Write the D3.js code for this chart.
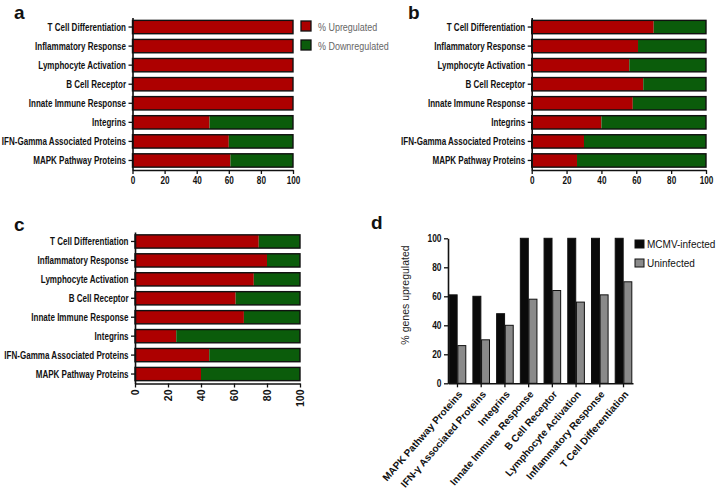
<!DOCTYPE html>
<html><head><meta charset="utf-8">
<script src="https://cdn.jsdelivr.net/npm/d3@7"></script>
<style>
html,body{margin:0;padding:0;background:#fff;}
svg{display:block;}
</style></head>
<body>
<svg id="chart" width="721" height="493"></svg>
<script>
// ---------- data ----------
const categories = ["T Cell Differentiation","Inflammatory Response","Lymphocyte Activation","B Cell Receptor","Innate Immune Response","Integrins","IFN-Gamma Associated Proteins","MAPK Pathway Proteins"];
const upA   = [100,100,100,100,100,48,60,61];
const downA = [0,0,0,0,0,52,40,39];
const upB   = [70,61,56,64,58,40,30,26];
const downB = [30,39,44,36,42,60,70,74];
const upC   = [75,80,72,61,66,25,45,40];
const downC = [25,20,28,39,34,75,55,60];
const valueTicks = [0,20,40,60,80,100];
const legendA = ["% Upregulated","% Downregulated"];

const dCategories = ["MAPK Pathway Proteins","IFN-γ Associated Proteins","Integrins","Innate Immune Response","B Cell Receptor","Lymphocyte Activation","Inflammatory Response","T Cell Differentiation"];
const mcmv       = [61,60,48,100,100,100,100,100];
const uninfected = [26,30,40,58,64,56,61,70];
const dSeries = ["MCMV-infected","Uninfected"];
const dTicks = [0,20,40,60,80,100];

// ---------- style ----------
const RED = "#ad0000", GREEN = "#0b5c0b", GRAY = "#8a8a8a";
const SANS = "'Liberation Sans',Arial,sans-serif";
const SQ = 0.73; // horizontal squeeze emulating a narrow typeface

const svg = d3.select("#chart");

function panelLabel(t, x, y){
  svg.append("text").attr("x",x).attr("y",y).text(t)
    .attr("font-family",SANS).attr("font-weight","bold").attr("font-size",19).attr("fill","#111");
}

function styleAxis(g){
  g.selectAll(".domain").attr("stroke","#111").attr("stroke-width",1.6);
  g.selectAll(".tick line").attr("stroke","#111").attr("stroke-width",1.3);
  g.selectAll("text").attr("font-family",SANS).attr("font-weight","bold").attr("fill","#111");
}

function hPanel(up, down, xr, yr, rotated){
  const g = svg.append("g");
  const x = d3.scaleLinear().domain([0,100]).range(xr);
  const y = d3.scaleBand().domain(categories).range(yr).paddingInner(0.3).paddingOuter(0.15);
  const rows = categories.map((c,i)=>({c, up:up[i], down:down[i]}));
  const bars = g.selectAll("g.bar").data(rows).join("g");
  bars.append("rect").attr("x",x(0)).attr("y",d=>y(d.c)).attr("height",y.bandwidth())
    .attr("width",d=>x(d.up)-x(0)).attr("fill",RED);
  bars.append("rect").attr("x",d=>x(d.up)).attr("y",d=>y(d.c)).attr("height",y.bandwidth())
    .attr("width",d=>x(d.up+d.down)-x(d.up)).attr("fill",GREEN);
  bars.append("rect").attr("x",x(0)).attr("y",d=>y(d.c)).attr("height",y.bandwidth())
    .attr("width",d=>x(d.up+d.down)-x(0)).attr("fill","none").attr("stroke","#111").attr("stroke-width",1.4);

  const ya = g.append("g").attr("transform",`translate(${xr[0]},0)`)
    .call(d3.axisLeft(y).tickSize(4).tickSizeOuter(0).tickPadding(2));
  styleAxis(ya);
  ya.selectAll("text").attr("font-size",11).attr("x",-6.5/SQ).attr("transform",`scale(${SQ},1)`);

  const xa = g.append("g").attr("transform",`translate(0,${yr[1]})`)
    .call(d3.axisBottom(x).tickValues(valueTicks).tickSize(4).tickSizeOuter(0));
  styleAxis(xa);
  xa.selectAll("text").attr("font-size",10.5);
  if(rotated){
    xa.selectAll("text").attr("transform",`rotate(-90)`).attr("text-anchor","end")
      .attr("x",-6).attr("y",0).attr("dy","0.35em");
  } else {
    xa.selectAll("text").attr("transform",`scale(0.78,1)`).attr("x",0);
  }
}

// panel a
panelLabel("a",14,19);
hPanel(upA, downA, [132.5,293], [17.5,170], false);
// legend a
const leg = svg.append("g").selectAll("g").data(legendA).join("g")
  .attr("transform",(d,i)=>`translate(301,${21+i*19})`);
leg.append("rect").attr("width",10).attr("height",10).attr("fill",(d,i)=>i?GREEN:RED)
  .attr("stroke","#111").attr("stroke-width",1.3);
leg.append("text").attr("x",17/0.78).attr("y",9.5).text(d=>d).attr("transform","scale(0.78,1)")
  .attr("font-family",SANS).attr("font-size",11.5).attr("fill","#666");

// panel b
panelLabel("b",408,19);
hPanel(upB, downB, [531.7,706], [17.5,170], false);

// panel c
panelLabel("c",14,231);
hPanel(upC, downC, [135,300], [232,383.5], true);

// panel d
panelLabel("d",371,229);
{
  const g = svg.append("g");
  const x = d3.scaleBand().domain(dCategories).range([448,633]).paddingInner(0.3).paddingOuter(0.05);
  const xi = d3.scaleBand().domain(dSeries).range([0,x.bandwidth()]).paddingInner(0.08);
  const y = d3.scaleLinear().domain([0,100]).range([383.3,238.3]);
  const rows = dCategories.map((c,i)=>({c, vals:[{s:dSeries[0],v:mcmv[i]},{s:dSeries[1],v:uninfected[i]}]}));
  g.selectAll("g.grp").data(rows).join("g").attr("transform",d=>`translate(${x(d.c)},0)`)
    .selectAll("rect").data(d=>d.vals).join("rect")
    .attr("x",d=>xi(d.s)).attr("width",xi.bandwidth())
    .attr("y",d=>y(d.v)).attr("height",d=>y(0)-y(d.v))
    .attr("fill",d=>d.s===dSeries[0]?"#0a0a0a":GRAY).attr("stroke","#111").attr("stroke-width",1);

  const ya = g.append("g").attr("transform","translate(448,0)")
    .call(d3.axisLeft(y).tickValues(dTicks).tickSize(4).tickSizeOuter(0).tickPadding(2));
  styleAxis(ya);
  ya.selectAll("text").attr("font-size",10.5).attr("x",-6.5/0.8).attr("transform","scale(0.8,1)");

  const xa = g.append("g").attr("transform","translate(0,383.3)")
    .call(d3.axisBottom(x).tickSize(4).tickSizeOuter(0));
  styleAxis(xa);
  xa.selectAll("text").attr("font-size",10).attr("text-anchor","end")
    .attr("transform","rotate(-49)").attr("x",-5).attr("y",8).attr("dy","0.35em");

  svg.append("text").attr("transform","translate(409,295) rotate(-90)").attr("text-anchor","middle")
    .text("% genes upregulated").attr("font-family",SANS).attr("font-size",10.5).attr("fill","#222");

  const lg = svg.append("g").selectAll("g").data(dSeries).join("g")
    .attr("transform",(d,i)=>`translate(635,${240+i*19})`);
  lg.append("rect").attr("width",9).attr("height",8).attr("fill",(d,i)=>i?GRAY:"#0a0a0a")
    .attr("stroke","#111").attr("stroke-width",1);
  lg.append("text").attr("x",12).attr("y",8).text(d=>d)
    .attr("font-family",SANS).attr("font-size",10).attr("fill","#111");
}
</script>
</body></html>
